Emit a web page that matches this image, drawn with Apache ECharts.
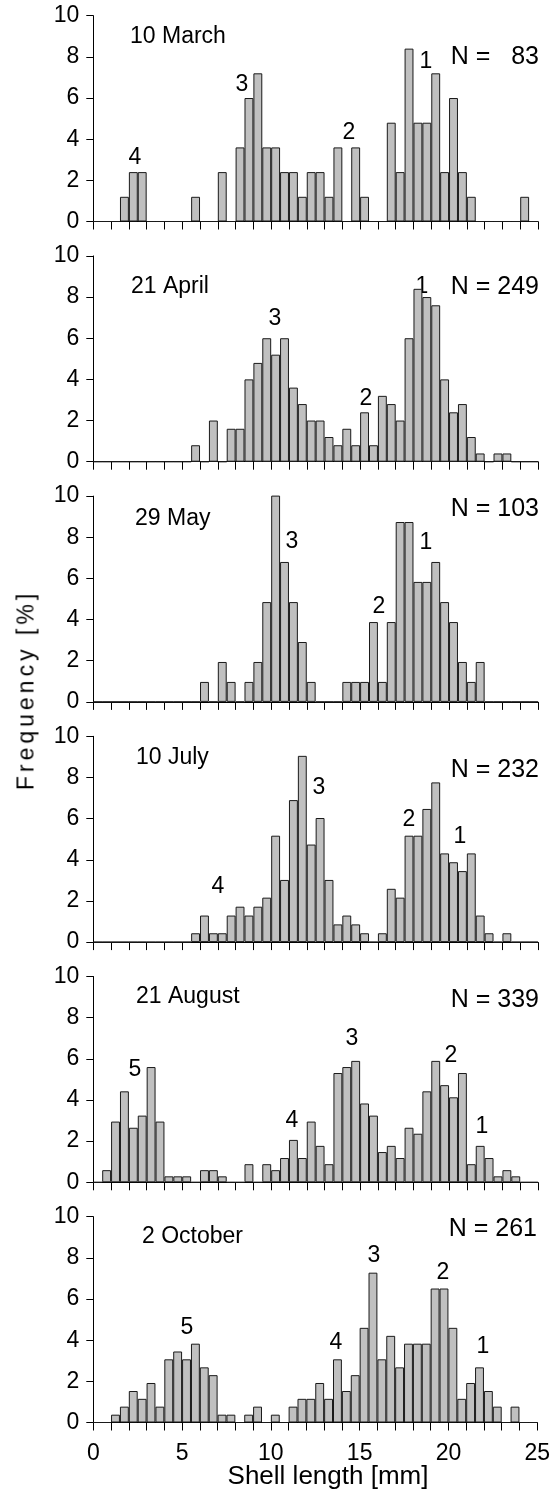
<!DOCTYPE html>
<html>
<head>
<meta charset="utf-8">
<script src="https://cdn.jsdelivr.net/npm/echarts@6/dist/echarts.min.js"></script>
<style>
  html, body { margin: 0; padding: 0; background: #fff; }
  #wrap { position: relative; width: 553px; height: 1492px; }
  #chart { width: 553px; height: 1492px; }
  .ytitle {
    position: absolute; left: 26px; top: 690px;
    transform: translate(-50%, -50%) rotate(-90deg);
    font: 23px 'Liberation Sans', Arial, sans-serif;
    letter-spacing: 4px; white-space: nowrap; color: #000;
  }
</style>
</head>
<body>
<div id="wrap">
  <div id="chart"></div>
  <div class="ytitle">Frequency [%]</div>
</div>
<script>
// shell length classes, lower edge of each 0.5 mm bin
const binStart = [0, 0.5, 1, 1.5, 2, 2.5, 3, 3.5, 4, 4.5, 5, 5.5, 6, 6.5, 7, 7.5, 8, 8.5, 9, 9.5,
  10, 10.5, 11, 11.5, 12, 12.5, 13, 13.5, 14, 14.5, 15, 15.5, 16, 16.5, 17, 17.5, 18, 18.5, 19, 19.5,
  20, 20.5, 21, 21.5, 22, 22.5, 23, 23.5, 24, 24.5];

// frequency [%] per bin
const march = [0, 0, 0, 1.2, 2.4, 2.4, 0, 0, 0, 0, 0, 1.2, 0, 0, 2.4, 0, 3.6, 6.0, 7.2, 3.6,
  3.6, 2.4, 2.4, 1.2, 2.4, 2.4, 1.2, 3.6, 0, 3.6, 1.2, 0, 0, 4.8, 2.4, 8.4, 4.8, 4.8, 7.2, 2.4,
  6.0, 2.4, 1.2, 0, 0, 0, 0, 0, 1.2, 0];
const april = [0, 0, 0, 0, 0, 0, 0, 0, 0, 0, 0, 0.8, 0, 2.0, 0, 1.6, 1.6, 4.0, 4.8, 6.0,
  5.2, 6.0, 3.6, 2.8, 2.0, 2.0, 1.2, 0.8, 1.6, 0.8, 2.4, 0.8, 3.2, 2.8, 2.0, 6.0, 8.4, 8.0, 7.6, 4.0,
  2.4, 2.8, 1.2, 0.4, 0, 0.4, 0.4, 0, 0, 0];
const may = [0, 0, 0, 0, 0, 0, 0, 0, 0, 0, 0, 0, 0.97, 0, 1.94, 0.97, 0, 0.97, 1.94, 4.85,
  10.68, 6.8, 4.85, 2.91, 0.97, 0, 0, 0, 0.97, 0.97, 0.97, 3.88, 0.97, 3.88, 8.74, 8.74, 5.83, 5.83, 6.8, 4.85,
  3.88, 1.94, 0.97, 1.94, 0, 0, 0, 0, 0, 0];
const july = [0, 0, 0, 0, 0, 0, 0, 0, 0, 0, 0, 0.43, 1.29, 0.43, 0.43, 1.29, 1.72, 1.29, 1.72, 2.16,
  5.17, 3.02, 6.9, 9.05, 4.74, 6.03, 3.02, 0.86, 1.29, 0.86, 0.43, 0, 0.43, 2.59, 2.16, 5.17, 5.17, 6.47, 7.76, 4.31,
  3.88, 3.45, 4.31, 1.29, 0.43, 0, 0.43, 0, 0, 0];
const august = [0, 0.59, 2.95, 4.42, 2.65, 3.24, 5.6, 2.95, 0.29, 0.29, 0.29, 0, 0.59, 0.59, 0.29, 0, 0, 0.88, 0, 0.88,
  0.59, 1.18, 2.06, 1.18, 2.95, 1.77, 0.88, 5.31, 5.6, 5.9, 3.83, 3.24, 1.47, 1.77, 1.18, 2.65, 2.36, 4.42, 5.9, 4.72,
  4.13, 5.31, 0.88, 1.77, 1.18, 0.29, 0.59, 0.29, 0, 0];
const october = [0, 0, 0.38, 0.77, 1.53, 1.15, 1.92, 0.77, 3.07, 3.45, 3.07, 3.83, 2.68, 2.3, 0.38, 0.38, 0, 0.38, 0.77, 0,
  0.38, 0, 0.77, 1.15, 1.15, 1.92, 1.15, 3.07, 1.53, 2.3, 4.6, 7.28, 3.07, 4.21, 2.68, 3.83, 3.83, 3.83, 6.51, 6.51,
  4.6, 1.15, 1.92, 2.68, 1.53, 0.77, 0, 0.77, 0, 0];

const dates = ['10 March', '21 April', '29 May', '10 July', '21 August', '2 October'];
const sampleSizes = ['N =   83', 'N = 249', 'N = 103', 'N = 232', 'N = 339', 'N = 261'];
const yTicks = [0, 2, 4, 6, 8, 10];
const xTickLabels = [0, 5, 10, 15, 20, 25];

const panels = [march, april, may, july, august, october];

// layout
const FONT = "'Liberation Sans', Arial, sans-serif";
const gridLeft = 93.3, gridWidth = 444.7, firstTop = 15.7, step = 240.2, gridHeight = 205.8;

// cohort labels: [text, x, y] in pixels
const cohortLabels = [
  ['4', 135, 158], ['3', 242, 85], ['2', 349, 133], ['1', 426, 62],
  ['3', 275, 319], ['2', 366, 399], ['1', 422, 287],
  ['3', 292, 542], ['2', 379, 607], ['1', 426, 543],
  ['4', 218, 887], ['3', 319, 788], ['2', 409, 820], ['1', 460, 837],
  ['5', 135, 1070], ['4', 292, 1121], ['3', 352, 1039], ['2', 451, 1056], ['1', 482, 1127],
  ['5', 187, 1328], ['4', 336, 1343], ['3', 374, 1256], ['2', 443, 1273], ['1', 483, 1347]
];
const dateLabelPos = [[130, 37], [131, 287], [135, 519], [136, 758], [136, 997], [142, 1237]];
const nLabelPos = [[539, 57], [539, 287], [539, 509], [539, 770], [539, 1000], [537, 1229]];

const chart = echarts.init(document.getElementById('chart'));

const grid = [], xAxis = [], yAxis = [], series = [], graphic = [];
panels.forEach((values, i) => {
  const last = i === panels.length - 1;
  grid.push({ left: gridLeft, width: gridWidth, top: firstTop + step * i, height: gridHeight });
  // category axis that carries the bars
  xAxis.push({
    type: 'category', gridIndex: i, position: 'bottom', data: binStart, show: false, boundaryGap: true
  });
  // value axis for line, ticks and labels in mm
  xAxis.push({
    type: 'value', gridIndex: i, position: 'bottom', min: 0, max: 25, interval: 1,
    axisLine: { show: true, onZero: false, lineStyle: { color: '#000', width: 1 } },
    axisTick: { show: true, length: 8, lineStyle: { color: '#000', width: 1 } },
    splitLine: { show: false },
    axisLabel: {
      show: last, margin: 20, color: '#000', fontFamily: FONT, fontSize: 23,
      formatter: v => (xTickLabels.indexOf(v) >= 0 ? String(v) : '')
    }
  });
  yAxis.push({
    type: 'value', gridIndex: i, min: 0, max: 10, interval: 2,
    axisLine: { show: true, lineStyle: { color: '#000', width: 1 } },
    axisTick: { show: true, length: 7, lineStyle: { color: '#000', width: 1 } },
    splitLine: { show: false },
    axisLabel: {
      margin: 14, color: '#000', fontFamily: FONT, fontSize: 23,
      formatter: v => (yTicks.indexOf(v) >= 0 ? String(v) : '')
    }
  });
  series.push({
    type: 'bar', xAxisIndex: i * 2, yAxisIndex: i, data: values,
    barCategoryGap: '0%', clip: true, silent: true, animation: false,
    itemStyle: { color: '#c0c0c0', borderColor: '#1a1a1a', borderWidth: 1 }
  });
  graphic.push({
    type: 'text', x: dateLabelPos[i][0], y: dateLabelPos[i][1],
    style: { text: dates[i], font: '23px ' + FONT, fill: '#000', align: 'left', verticalAlign: 'middle' }
  });
  graphic.push({
    type: 'text', x: nLabelPos[i][0], y: nLabelPos[i][1],
    style: { text: sampleSizes[i], font: '25px ' + FONT, fill: '#000', align: 'right', verticalAlign: 'middle' }
  });
});

cohortLabels.forEach(([t, x, y]) => {
  graphic.push({
    type: 'text', x: x, y: y,
    style: { text: t, font: '23px ' + FONT, fill: '#000', align: 'center', verticalAlign: 'middle' }
  });
});

graphic.push({
  type: 'text', x: 328, y: 1477,
  style: { text: 'Shell length [mm]', font: '26px ' + FONT, fill: '#000', align: 'center', verticalAlign: 'middle' }
});

chart.setOption({
  animation: false,
  grid: grid,
  xAxis: xAxis,
  yAxis: yAxis,
  series: series,
  graphic: graphic
});
</script>
</body>
</html>
